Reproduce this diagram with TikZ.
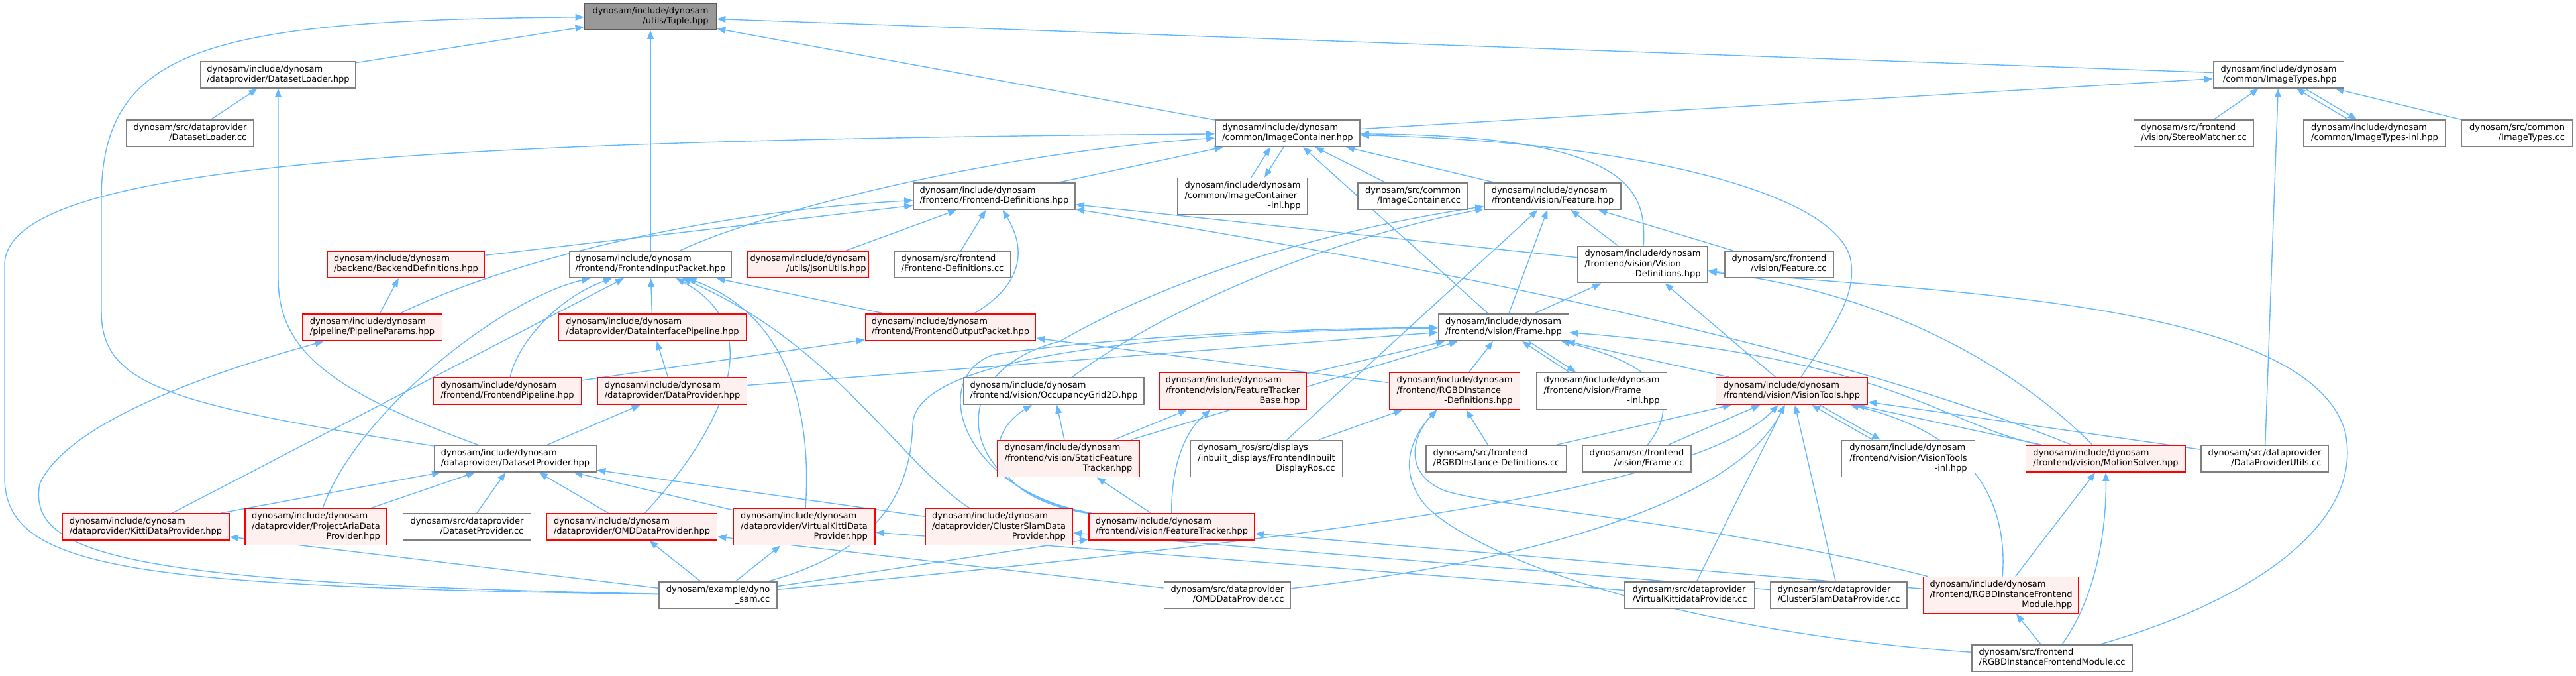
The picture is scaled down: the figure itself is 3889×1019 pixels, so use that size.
\documentclass[tikz,border=0pt]{standalone}
\usepackage{fontspec}
\setmainfont{DejaVu Sans}
\usetikzlibrary{arrows.meta,calc,backgrounds}
\definecolor{edgeblue}{HTML}{63B8FF}
\definecolor{truncfill}{HTML}{FFF0F0}
\definecolor{rootfill}{HTML}{999999}
\definecolor{boxgray}{HTML}{7F7F7F}
\newcommand{\lbltwo}[2]{\begin{tabular}{@{}l@{}}#1\\\hfill#2\hfill\end{tabular}}
\newcommand{\lblthree}[3]{\begin{tabular}{@{}l@{}}#1\\#2\\\hfill#3\hfill\end{tabular}}

\begin{document}
\begin{tikzpicture}[x=0.02cm,y=-0.02cm,
  file/.style={draw=boxgray,fill=white,line width=1pt,inner sep=0pt,minimum height=0.8cm,font=\fontsize{7.4}{8.6}\selectfont},
  tall/.style={minimum height=1.1cm},
  trunc/.style={file,draw=red,fill=truncfill},
  root/.style={file,fill=rootfill,draw=gray!70!black},
  edge/.style={draw=edgeblue,line width=0.8pt,-{Triangle[length=0.26cm,width=0.2cm]}}]
\useasboundingbox (0,0) rectangle (3889,1019);

\node[root, minimum width=3.98cm] (tuple) at (982,25) {\lbltwo{dynosam/include/dynosam}{/utils/Tuple.hpp}};

\node[file, minimum width=4.68cm] (dsloader) at (420,113) {\lbltwo{dynosam/include/dynosam}{/dataprovider/DatasetLoader.hpp}};
\node[file, minimum width=3.94cm] (imgtypes) at (3440,113) {\lbltwo{dynosam/include/dynosam}{/common/ImageTypes.hpp}};

\node[file, minimum width=3.84cm] (dsloadercc) at (287,201) {\lbltwo{dynosam/src/dataprovider}{/DatasetLoader.cc}};
\node[file, minimum width=4.36cm] (imgcont) at (1944,201) {\lbltwo{dynosam/include/dynosam}{/common/ImageContainer.hpp}};
\node[file, minimum width=3.62cm] (stereo) at (3312,201) {\lbltwo{dynosam/src/frontend}{/vision/StereoMatcher.cc}};
\node[file, minimum width=4.28cm] (imgtypesinl) at (3585,201) {\lbltwo{dynosam/include/dynosam}{/common/ImageTypes-inl.hpp}};
\node[file, minimum width=3.36cm] (imgtypescc) at (3800,201) {\lbltwo{dynosam/src/common}{/ImageTypes.cc}};

\node[file, minimum width=4.88cm] (fedefs) at (1501,296) {\lbltwo{dynosam/include/dynosam}{/frontend/Frontend-Definitions.hpp}};
\node[file, tall, minimum width=3.92cm] (imgcontinl) at (1876,296) {\lblthree{dynosam/include/dynosam}{/common/ImageContainer}{-inl.hpp}};
\node[file, minimum width=3.32cm] (imgcontcc) at (2133,296) {\lbltwo{dynosam/src/common}{/ImageContainer.cc}};
\node[file, minimum width=4.12cm] (feature) at (2344,296) {\lbltwo{dynosam/include/dynosam}{/frontend/vision/Feature.hpp}};

\node[trunc, minimum width=4.74cm] (backdefs) at (613,399) {\lbltwo{dynosam/include/dynosam}{/backend/BackendDefinitions.hpp}};
\node[file, minimum width=4.90cm] (inpacket) at (982,399) {\lbltwo{dynosam/include/dynosam}{/frontend/FrontendInputPacket.hpp}};
\node[trunc, minimum width=3.64cm] (jsonutils) at (1220,399) {\lbltwo{dynosam/include/dynosam}{/utils/JsonUtils.hpp}};
\node[file, minimum width=3.50cm] (fedefscc) at (1438,399) {\lbltwo{dynosam/src/frontend}{/Frontend-Definitions.cc}};
\node[file, tall, minimum width=3.92cm] (visdefs) at (2480,399) {\lblthree{dynosam/include/dynosam}{/frontend/vision/Vision}{-Definitions.hpp}};
\node[file, minimum width=3.28cm] (featurecc) at (2686,399) {\lbltwo{dynosam/src/frontend}{/vision/Feature.cc}};

\node[trunc, minimum width=4.22cm] (pparams) at (562,494) {\lbltwo{dynosam/include/dynosam}{/pipeline/PipelineParams.hpp}};
\node[trunc, minimum width=5.66cm] (dipipe) at (985,494) {\lbltwo{dynosam/include/dynosam}{/dataprovider/DataInterfacePipeline.hpp}};
\node[trunc, minimum width=5.14cm] (outpacket) at (1435,494) {\lbltwo{dynosam/include/dynosam}{/frontend/FrontendOutputPacket.hpp}};
\node[file, minimum width=3.94cm] (frame) at (2270,494) {\lbltwo{dynosam/include/dynosam}{/frontend/vision/Frame.hpp}};

\node[trunc, minimum width=4.46cm] (fepipe) at (766,590) {\lbltwo{dynosam/include/dynosam}{/frontend/FrontendPipeline.hpp}};
\node[trunc, minimum width=4.50cm] (dataprov) at (1015,590) {\lbltwo{dynosam/include/dynosam}{/dataprovider/DataProvider.hpp}};
\node[file, minimum width=5.44cm] (occgrid) at (1591,590) {\lbltwo{dynosam/include/dynosam}{/frontend/vision/OccupancyGrid2D.hpp}};
\node[trunc, tall, minimum width=4.44cm] (ftbase) at (1861,590) {\lblthree{dynosam/include/dynosam}{/frontend/vision/FeatureTracker}{Base.hpp}};
\node[trunc, tall, minimum width=3.94cm] (rgbddefs) at (2196,590) {\lblthree{dynosam/include/dynosam}{/frontend/RGBDInstance}{-Definitions.hpp}};
\node[file, tall, minimum width=3.94cm] (frameinl) at (2418,590) {\lblthree{dynosam/include/dynosam}{/frontend/vision/Frame}{-inl.hpp}};
\node[trunc, minimum width=4.58cm] (vtools) at (2705,590) {\lbltwo{dynosam/include/dynosam}{/frontend/vision/VisionTools.hpp}};

\node[file, minimum width=4.90cm] (dsprov) at (778,692) {\lbltwo{dynosam/include/dynosam}{/dataprovider/DatasetProvider.hpp}};
\node[trunc, tall, minimum width=4.30cm] (staticft) at (1613,692) {\lblthree{dynosam/include/dynosam}{/frontend/vision/StaticFeature}{Tracker.hpp}};
\node[file, tall, minimum width=4.60cm] (rosdisp) at (1912,692) {\lblthree{dynosam\_ros/src/displays}{/inbuilt\_displays/FrontendInbuilt}{DisplayRos.cc}};
\node[file, minimum width=4.24cm] (rgbddefscc) at (2259,692) {\lbltwo{dynosam/src/frontend}{/RGBDInstance-Definitions.cc}};
\node[file, minimum width=3.28cm] (framecc) at (2471,692) {\lbltwo{dynosam/src/frontend}{/vision/Frame.cc}};
\node[file, tall, minimum width=4.02cm] (vtoolsinl) at (2881,692) {\lblthree{dynosam/include/dynosam}{/frontend/vision/VisionTools}{-inl.hpp}};
\node[trunc, minimum width=4.82cm] (msolver) at (3179,692) {\lbltwo{dynosam/include/dynosam}{/frontend/vision/MotionSolver.hpp}};
\node[file, minimum width=3.84cm] (dputils) at (3419,692) {\lbltwo{dynosam/src/dataprovider}{/DataProviderUtils.cc}};

\node[trunc, minimum width=5.04cm] (kitti) at (220,795) {\lbltwo{dynosam/include/dynosam}{/dataprovider/KittiDataProvider.hpp}};
\node[trunc, tall, minimum width=4.28cm] (aria) at (477,795) {\lblthree{dynosam/include/dynosam}{/dataprovider/ProjectAriaData}{Provider.hpp}};
\node[file, minimum width=3.86cm] (dsprovcc) at (705,795) {\lbltwo{dynosam/src/dataprovider}{/DatasetProvider.cc}};
\node[trunc, minimum width=5.14cm] (omd) at (954,795) {\lbltwo{dynosam/include/dynosam}{/dataprovider/OMDDataProvider.hpp}};
\node[trunc, tall, minimum width=4.28cm] (vkitti) at (1214,795) {\lblthree{dynosam/include/dynosam}{/dataprovider/VirtualKittiData}{Provider.hpp}};
\node[trunc, tall, minimum width=4.44cm] (cslam) at (1508,795) {\lblthree{dynosam/include/dynosam}{/dataprovider/ClusterSlamData}{Provider.hpp}};
\node[trunc, minimum width=5.00cm] (ftracker) at (1769,795) {\lbltwo{dynosam/include/dynosam}{/frontend/vision/FeatureTracker.hpp}};

\node[file, minimum width=3.56cm] (dynosam) at (1084,898) {\lbltwo{dynosam/example/dyno}{\_sam.cc}};
\node[file, minimum width=3.82cm] (omdcc) at (1853,898) {\lbltwo{dynosam/src/dataprovider}{/OMDDataProvider.cc}};
\node[file, minimum width=3.92cm] (vkitticc) at (2551,898) {\lbltwo{dynosam/src/dataprovider}{/VirtualKittidataProvider.cc}};
\node[file, minimum width=4.12cm] (cslamcc) at (2776,898) {\lbltwo{dynosam/src/dataprovider}{/ClusterSlamDataProvider.cc}};
\node[trunc, tall, minimum width=4.68cm] (rgbdfm) at (3021,898) {\lblthree{dynosam/include/dynosam}{/frontend/RGBDInstanceFrontend}{Module.hpp}};

\node[file, minimum width=4.84cm] (rgbdfmcc) at (3098,993) {\lbltwo{dynosam/src/frontend}{/RGBDInstanceFrontendModule.cc}};

\begin{scope}[on background layer]
% Tuple and loaders
\draw[edge] (dsprov) .. controls (250,610) and (153,580) .. (153,470) -- (153,300) .. controls (153,70) and (320,30) .. (tuple);
\draw[edge] (dsloader) -- (tuple);
\draw[edge] (inpacket) -- (tuple);
\draw[edge] (imgcont) -- (tuple);
\draw[edge] (imgtypes) -- (tuple);
\draw[edge] (dsloadercc) -- (dsloader);
\draw[edge] (dsprov) .. controls (500,590) and (420,530) .. (420,420) -- (dsloader);
% image types
\draw[edge] (imgcont) -- (imgtypes);
\draw[edge] (stereo) -- (imgtypes);
\draw[edge] ($(imgtypesinl.north)+(-40,0)$) -- ($(imgtypes.south)+(27,0)$);
\draw[edge] ($(imgtypes.south)+(40,0)$) -- ($(imgtypesinl.north)+(-27,0)$);
\draw[edge] (imgtypescc) -- (imgtypes);
\draw[edge] (dputils) -- (imgtypes);
% image container
\draw[edge] (dynosam) .. controls (200,885) and (7,860) .. (7,720) -- (7,400) .. controls (7,250) and (600,212) .. (imgcont);
\draw[edge] (inpacket) .. controls (1150,320) and (1500,230) .. (imgcont);
\draw[edge] (fedefs) -- (imgcont);
\draw[edge] ($(imgcontinl.north)+(13,0)$) -- ($(imgcont.south)+(-26,0)$);
\draw[edge] ($(imgcont.south)+(-6,0)$) -- ($(imgcontinl.north)+(33,0)$);
\draw[edge] (frame) -- (imgcont);
\draw[edge] (imgcontcc) -- (imgcont);
\draw[edge] (feature) -- (imgcont);
\draw[edge] (visdefs) .. controls (2485,290) and (2470,205) .. (imgcont);
\draw[edge] (vtools) .. controls (2765,500) and (2800,450) .. (2795,400) .. controls (2790,300) and (2500,215) .. (imgcont);
% frontend definitions
\draw[edge] (pparams) .. controls (750,400) and (1050,320) .. (fedefs);
\draw[edge] (backdefs) -- (fedefs);
\draw[edge] (jsonutils) -- (fedefs);
\draw[edge] (fedefscc) -- (fedefs);
\draw[edge] (outpacket) .. controls (1560,420) and (1540,360) .. (fedefs);
\draw[edge] (visdefs) -- (fedefs);
\draw[edge] (msolver) .. controls (2850,560) and (2400,440) .. (fedefs);
% feature
\draw[edge] (occgrid) .. controls (1750,470) and (2000,360) .. (feature);
\draw[edge] (ftracker) .. controls (1440,740) and (1420,560) .. (1600,515) .. controls (1800,400) and (2050,340) .. (feature);
\draw[edge] (rosdisp) -- (feature);
\draw[edge] (frame) -- (feature);
\draw[edge] (visdefs) -- (feature);
\draw[edge] (featurecc) -- (feature);
% vision definitions
\draw[edge] (frame) -- (visdefs);
\draw[edge] (vtools) -- (visdefs);
\draw[edge] (msolver) .. controls (3050,560) and (2850,440) .. (visdefs);
\draw[edge] (rgbdfmcc) .. controls (3420,900) and (3570,780) .. (3540,650) .. controls (3480,450) and (2900,440) .. (visdefs);
% frame
\draw[edge] (ftracker) .. controls (1450,740) and (1400,570) .. (1500,535) .. controls (1700,505) and (2000,495) .. (frame);
\draw[edge] (dynosam) .. controls (1330,830) and (1375,740) .. (1378,640) .. controls (1382,530) and (1800,500) .. (frame);
\draw[edge] (dataprov) -- (frame);
\draw[edge] (ftbase) -- (frame);
\draw[edge] (staticft) -- (frame);
\draw[edge] (rgbddefs) -- (frame);
\draw[edge] ($(frameinl.north)+(-49,0)$) -- ($(frame.south)+(28,0)$);
\draw[edge] ($(frame.south)+(38,0)$) -- ($(frameinl.north)+(-39,0)$);
\draw[edge] (framecc) .. controls (2520,630) and (2545,560) .. (frame);
\draw[edge] (vtools) -- (frame);
\draw[edge] (msolver) .. controls (2930,640) and (2860,540) .. (frame);
% input packet
\draw[edge] (aria) .. controls (540,620) and (760,450) .. (inpacket);
\draw[edge] (kitti) -- (inpacket);
\draw[edge] (fepipe) .. controls (780,520) and (840,450) .. (inpacket);
\draw[edge] (dipipe) -- (inpacket);
\draw[edge] (omd) .. controls (1080,660) and (1170,500) .. (inpacket);
\draw[edge] (vkitti) .. controls (1225,640) and (1200,480) .. (inpacket);
\draw[edge] (cslam) .. controls (1360,700) and (1260,520) .. (inpacket);
\draw[edge] (outpacket) -- (inpacket);
% output packet, pipelines
\draw[edge] (fepipe) -- (outpacket);
\draw[edge] (rgbddefs) -- (outpacket);
\draw[edge] (dataprov) -- (dipipe);
\draw[edge] (dsprov) -- (dataprov);
\draw[edge] (dynosam) .. controls (200,880) and (40,840) .. (60,730) .. controls (110,620) and (400,540) .. (pparams);
\draw[edge] (pparams) -- (backdefs);
% dataset providers
\foreach \n in {kitti,aria,dsprovcc,omd,vkitti,cslam}
  \draw[edge] (\n) -- (dsprov);
\draw[edge] (dynosam) -- (kitti);
\draw[edge] (dynosam) -- (omd);
\draw[edge] (omdcc) -- (omd);
\draw[edge] (dynosam) -- (vkitti);
\draw[edge] (vkitticc) -- (vkitti);
\draw[edge] (cslamcc) -- (cslam);
% trackers
\draw[edge] (dynosam) -- (ftracker);
\draw[edge] (rgbdfm) -- (ftracker);
\draw[edge] (ftracker) -- (staticft);
\draw[edge] (ftracker) .. controls (1768,700) and (1790,650) .. (ftbase);
\draw[edge] (ftracker) .. controls (1490,750) and (1480,660) .. (occgrid);
\draw[edge] (staticft) -- (ftbase);
\draw[edge] (staticft) -- (occgrid);
% rgbd definitions
\draw[edge] (rosdisp) -- (rgbddefs);
\draw[edge] (rgbdfm) .. controls (2600,790) and (2250,765) .. (2180,740) .. controls (2120,715) and (2130,660) .. (rgbddefs);
\draw[edge] (rgbdfmcc) .. controls (2500,950) and (2210,830) .. (2150,760) .. controls (2110,710) and (2130,660) .. (rgbddefs);
\draw[edge] (rgbddefscc) -- (rgbddefs);
% vision tools
\draw[edge] (rgbddefscc) -- (vtools);
\draw[edge] (framecc) -- (vtools);
\draw[edge] (dynosam) .. controls (1900,820) and (2550,750) .. (vtools);
\draw[edge] (omdcc) .. controls (2300,850) and (2620,760) .. (vtools);
\draw[edge] (vkitticc) -- (vtools);
\draw[edge] (cslamcc) -- (vtools);
\draw[edge] ($(vtoolsinl.north)+(-54,0)$) -- ($(vtools.south)+(30,0)$);
\draw[edge] ($(vtools.south)+(42,0)$) -- ($(vtoolsinl.north)+(-42,0)$);
\draw[edge] (msolver) -- (vtools);
\draw[edge] (rgbdfm) .. controls (3030,780) and (3000,660) .. (vtools);
\draw[edge] (dputils) -- (vtools);
% motion solver, frontend module
\draw[edge] (rgbdfm) -- (msolver);
\draw[edge] (rgbdfmcc) .. controls (3165,900) and (3180,800) .. (msolver);
\draw[edge] (rgbdfmcc) -- (rgbdfm);
\end{scope}
\end{tikzpicture}
\end{document}
